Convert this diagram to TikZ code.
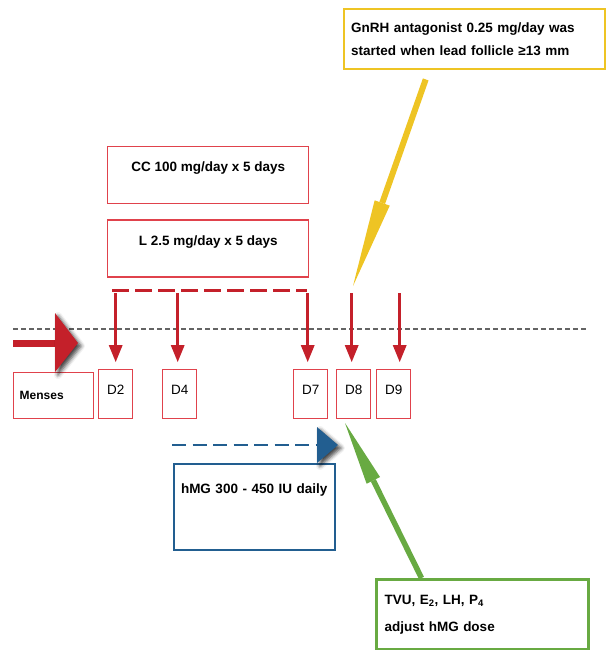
\documentclass[tikz,border=0pt]{standalone}
\usepackage{fontspec}
\setmainfont{Liberation Sans}
\usepackage{tikz}
\usetikzlibrary{arrows.meta,positioning,calc,shadows.blur}
\definecolor{myred}{RGB}{196,32,42}
\definecolor{myboxred}{RGB}{224,66,76}
\definecolor{myyellow}{RGB}{238,196,36}
\definecolor{mygreen}{RGB}{104,170,66}
\definecolor{myblue}{RGB}{34,94,144}
\definecolor{mygray}{RGB}{100,100,100}

\begin{document}
\begin{tikzpicture}[
  x=1pt, y=-1pt,
  every node/.style={font=\fontsize{13.5}{15}\selectfont},
  boldtext/.style={font=\bfseries\fontsize{13.5}{15}\selectfont},
  drugbox/.style={
    draw=myboxred,
    line width=1.4pt,
    minimum width=201pt,
    inner sep=0pt,
    text height=25pt,
    text depth=32pt,
    boldtext
    },
  daybox/.style={
    draw=myboxred,
    line width=1.4pt,
    minimum width=34pt,
    inner sep=0pt,
    text height=25pt,
    text depth=24pt
    },
  dayarrow/.style={myred, line width=3.5pt, -{Triangle[length=17pt,width=14pt,line width=0pt]}},
  reddash/.style={myred, line width=3pt, dash pattern=on 17pt off 6pt},
  graydash/.style={mygray, line width=1.5pt, dash pattern=on 5pt off 3pt},
  bluedash/.style={myblue, line width=2.8pt, dash pattern=on 14pt off 6.5pt},
  headshadow/.style={blur shadow={shadow xshift=3pt, shadow yshift=-3pt, shadow blur radius=4pt, shadow opacity=75}},
  gnrharrow/.style={myyellow, line width=6pt, -{Triangle[length=88pt,width=16pt,line width=0pt]}},
  tvuarrow/.style={mygreen, line width=5.5pt, -{Triangle[length=64pt,width=15pt,line width=0pt]}}
]
\useasboundingbox (0,0) rectangle (606,650);

\node[drugbox, anchor=north west] (cc) at (107,146) {CC 100 mg/day x 5 days};
\node[drugbox, below=15pt of cc] (letro) {L 2.5 mg/day x 5 days};

\node[draw=myyellow, line width=2.4pt, anchor=north west, minimum height=60pt,
  text width=247pt, inner xsep=7pt, align=left, boldtext] (gnrh) at (343,8)
  {GnRH antagonist 0.25 mg/day was\\[8pt]started when lead follicle ≥13 mm};

\node[draw=myboxred, line width=1.4pt, anchor=north west, minimum height=46pt,
  text width=68pt, inner xsep=6pt, align=left, font=\bfseries\fontsize{12}{14}\selectfont] (menses) at (13,372) {Menses};

\foreach \Dname/\Dx in {D2/98, D4/162, D7/293, D8/336, D9/376}
  \node[daybox, anchor=north west] (\Dname) at (\Dx,369) {\Dname};

\node[draw=myblue, line width=2pt, anchor=north west, text width=147pt,
  inner xsep=7pt, inner ysep=0pt, text height=29pt, text depth=57pt,
  align=left, boldtext] (hmg) at (173,463) {hMG 300 - 450 IU daily};

\node[draw=mygreen, line width=3pt, anchor=north west, minimum height=70pt,
  text width=196pt, inner xsep=8pt, align=left, boldtext] (tvu) at (375,578)
  {TVU, E\textsubscript{2}, LH, P\textsubscript{4}\\[12pt]adjust hMG dose};

\coordinate (redstart) at (112,290);
\coordinate (redend) at (307,290);
\coordinate (redline) at (0,293);
\coordinate (graystart) at (13,329);
\coordinate (grayend) at (586,329);
\coordinate (mensesin) at (13,343);
\coordinate (mensestip) at (78,343);
\coordinate (hmgstart) at (172,445);
\coordinate (hmgend) at (316,445);
\coordinate (hmgtip) at (338,445);
\coordinate (gnrhtip) at (353,286);
\coordinate (tvutip) at (345,423);

\draw[graydash] (graystart) -- (grayend);
\draw[reddash] (redstart) -- (redend);

\foreach \Dname/\Dd in {D2/0, D4/-2, D7/-3, D8/-2, D9/6}
  \draw[dayarrow] ($(\Dname.north |- redline)+(\Dd,0)$) -- ($(\Dname.north)+(\Dd,-7)$);

\draw[myred, line width=7pt] (mensesin) -- ++(44,0);
\fill[myred, headshadow] (mensestip) -- ++(-23,-30) -- ++(0,59) -- cycle;

\draw[bluedash] (hmgstart) -- (hmgend);
\fill[myblue, headshadow] (hmgtip) -- ++(-21,-18) -- ++(0,36) -- cycle;

\draw[gnrharrow] ([xshift=-49pt,yshift=-9pt]gnrh.south) -- (gnrhtip);
\draw[tvuarrow] ([xshift=-61pt]tvu.north) -- (tvutip);
\end{tikzpicture}
\end{document}
